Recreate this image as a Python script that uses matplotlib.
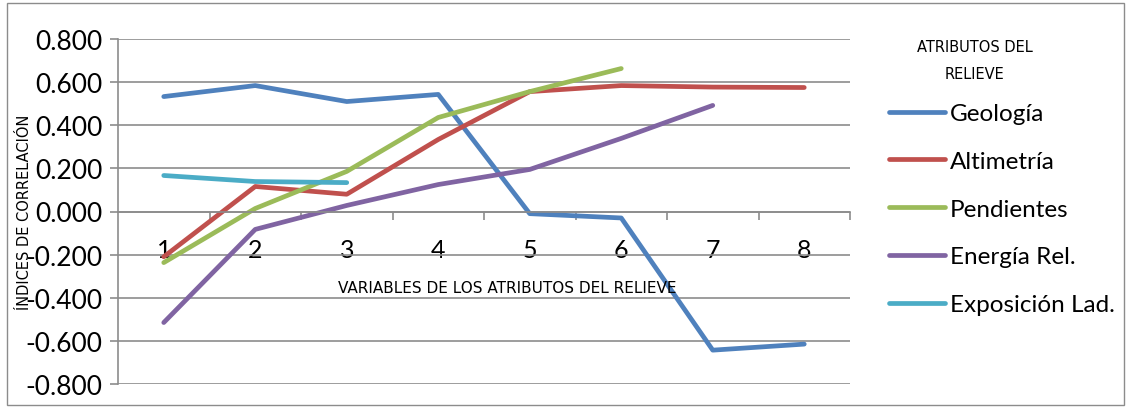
import numpy as np
import matplotlib.pyplot as plt
from matplotlib.patches import Rectangle
from matplotlib import font_manager

categories = [1, 2, 3, 4, 5, 6, 7, 8]
geologia = [0.533, 0.584, 0.510, 0.543, -0.010, -0.030, -0.643, -0.615]
altimetria = [-0.210, 0.116, 0.080, 0.334, 0.556, 0.584, 0.577, 0.575]
pendientes = [-0.237, 0.014, 0.186, 0.436, 0.556, 0.663]
energia = [-0.515, -0.083, 0.028, 0.125, 0.195, 0.339, 0.492]
exposicion = [0.167, 0.139, 0.134]

series = [
    ("Geología", geologia, "#4F81BD"),
    ("Altimetría", altimetria, "#C0504D"),
    ("Pendientes", pendientes, "#9BBB59"),
    ("Energía Rel.", energia, "#8064A2"),
    ("Exposición Lad.", exposicion, "#4BACC6"),
]
yticks = [-0.8, -0.6, -0.4, -0.2, 0.0, 0.2, 0.4, 0.6, 0.8]

names = {f.name for f in font_manager.fontManager.ttflist}
narrow = "Liberation Sans Narrow" if "Liberation Sans Narrow" in names else "DejaVu Sans"
body = "Lato" if "Lato" in names else "DejaVu Sans"

fig = plt.figure(figsize=(11.31, 4.10), dpi=100)
fig.patches.append(Rectangle((7 / 1131, 4 / 410), 1117 / 1131, 402 / 410,
                             transform=fig.transFigure, fill=False,
                             edgecolor="#8c8c8c", linewidth=1))

ax = fig.add_axes([118 / 1131, 25 / 410, 732 / 1131, 345 / 410])
for name, vals, col in series:
    ax.plot(categories[:len(vals)], vals, color=col, lw=3.4,
            solid_capstyle="round", solid_joinstyle="round", label=name)

ax.set_xlim(0.5, 8.5)
ax.set_ylim(-0.8, 0.8)
ax.set_yticks(yticks)
ax.set_yticklabels(["%.3f" % v for v in yticks], fontsize=19, family=body)
ax.yaxis.grid(True, color="#8c8c8c", lw=1.2)
ax.set_axisbelow(True)
ax.tick_params(axis="y", length=6, color="#8c8c8c", width=1.2, pad=5)

ax.spines["top"].set_visible(False)
ax.spines["right"].set_visible(False)
ax.spines["left"].set_color("#8c8c8c")
ax.spines["left"].set_linewidth(1.2)
ax.spines["bottom"].set_position(("data", 0))
ax.spines["bottom"].set_color("#8c8c8c")
ax.spines["bottom"].set_linewidth(1.2)

ax.set_xticks(categories)
ax.set_xticklabels([str(c) for c in categories], fontsize=18, family=body)
ax.tick_params(axis="x", which="major", length=0, pad=19)
ax.set_xticks(np.arange(1.5, 9, 1), minor=True)
ax.tick_params(axis="x", which="minor", length=6, color="#8c8c8c", width=1.2)

ax.text(4.75, -0.352, "VARIABLES DE LOS ATRIBUTOS DEL RELIEVE", fontsize=11,
        family=narrow, ha="center", va="center")
fig.text(25 / 1131, 1 - 212 / 410, "ÍNDICES DE CORRELACIÓN", rotation=90,
         fontsize=10.5, family=narrow, ha="center", va="center")

leg = ax.legend(loc="upper left", bbox_to_anchor=(889 / 1131, 1 - 104 / 410),
                bbox_transform=fig.transFigure, frameon=False,
                prop={"family": body, "size": 17.5}, handlelength=2.3,
                handletextpad=0.2, labelspacing=1.1, borderpad=0,
                borderaxespad=0)
fig.text(975 / 1131, 1 - 61 / 410, "ATRIBUTOS DEL\nRELIEVE", fontsize=10.5,
         family=narrow, ha="center", va="center", linespacing=2.0)

fig.savefig("out.png", dpi=100)
